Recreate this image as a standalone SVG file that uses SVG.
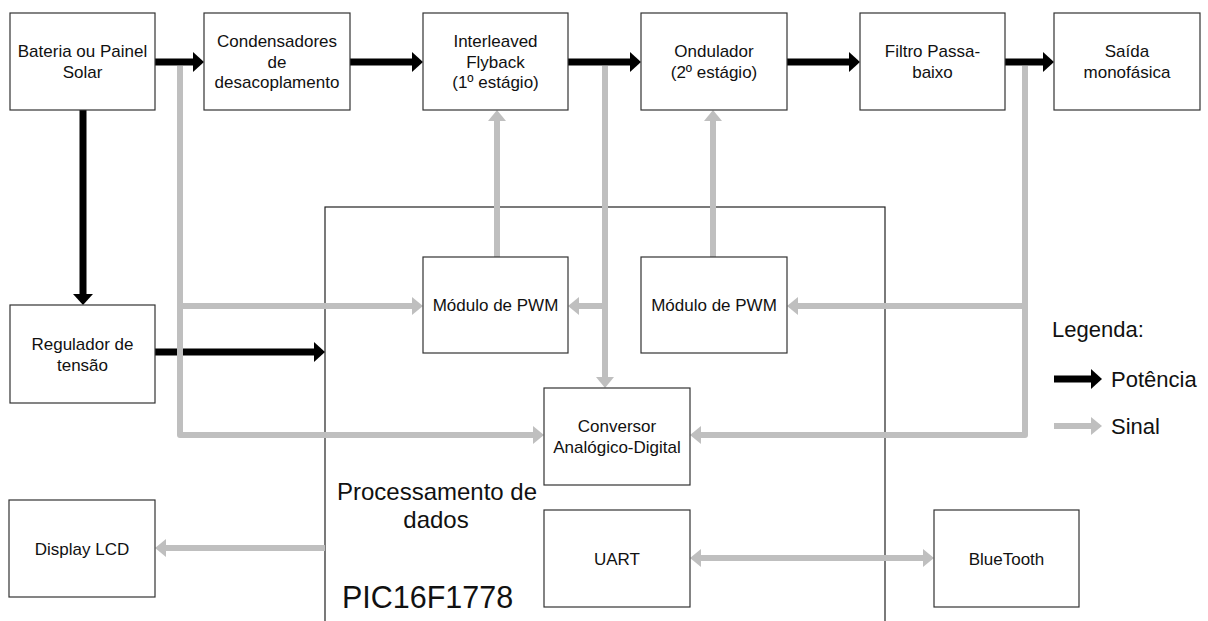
<svg xmlns="http://www.w3.org/2000/svg" width="1208" height="621" viewBox="0 0 1208 621">
<style>
.box{fill:#fff;stroke:#333;stroke-width:1.2}
.t{font-family:"Liberation Sans",Arial,sans-serif;font-size:17px;fill:#111;text-anchor:middle}
.lg{font-family:"Liberation Sans",Arial,sans-serif;font-size:22px;fill:#111}
.pw{fill:none;stroke:#000;stroke-width:7}
.sg{fill:none;stroke:#bfbfbf;stroke-width:6;stroke-linejoin:round}
</style>
<defs>
<marker id="hb" markerUnits="userSpaceOnUse" markerWidth="12" markerHeight="22" viewBox="0 -11 12 22" refX="0" refY="0" orient="auto-start-reverse"><path d="M0,-10 L11,0 L0,10 Z" fill="#000"/></marker>
<marker id="hg" markerUnits="userSpaceOnUse" markerWidth="12" markerHeight="20" viewBox="0 -10 12 20" refX="0" refY="0" orient="auto-start-reverse"><path d="M0,-9 L11,0 L0,9 Z" fill="#bfbfbf"/></marker>
</defs>
<rect width="1208" height="621" fill="#fff"/>
<g id="processamento">
<rect x="325" y="207" width="560" height="430" fill="#fff" stroke="#222" stroke-width="1.2"/>
<text class="t" x="437" y="500" style="font-size:24px">Processamento de</text>
<text class="t" x="436" y="528" style="font-size:24px">dados</text>
<text class="t" x="427.5" y="608" style="font-size:30.5px">PIC16F1778</text>
</g>
<g id="connectors">
<path class="pw" d="M155,62 H193" marker-end="url(#hb)"/>
<path class="pw" d="M350,62 H412" marker-end="url(#hb)"/>
<path class="pw" d="M568,62 H630" marker-end="url(#hb)"/>
<path class="pw" d="M787,62 H849" marker-end="url(#hb)"/>
<path class="pw" d="M1005,62 H1043" marker-end="url(#hb)"/>
<path class="pw" d="M83,110 V294" marker-end="url(#hb)"/>
<path class="pw" d="M155,352 H314" marker-end="url(#hb)"/>
<path class="sg" d="M180,66 V435 H533" marker-end="url(#hg)"/>
<path class="sg" d="M180,306 H412" marker-end="url(#hg)"/>
<path class="sg" d="M497,257 V121" marker-end="url(#hg)"/>
<path class="sg" d="M713,257 V121" marker-end="url(#hg)"/>
<path class="sg" d="M605,66 V377" marker-end="url(#hg)"/>
<path class="sg" d="M605,306 H579" marker-end="url(#hg)"/>
<path class="sg" d="M1025,66 V435 H701" marker-end="url(#hg)"/>
<path class="sg" d="M1025,306 H798" marker-end="url(#hg)"/>
<path class="sg" d="M325,548 H166" marker-end="url(#hg)"/>
<path class="sg" d="M701,558 H923" marker-start="url(#hg)" marker-end="url(#hg)"/>
</g>
<g id="bateria"><rect class="box" x="10" y="13" width="145" height="97"/><text class="t" x="82.5" y="57">Bateria ou Painel</text><text class="t" x="82.5" y="78">Solar</text></g>
<g id="condensadores"><rect class="box" x="204" y="13" width="146" height="97"/><text class="t" x="277" y="47">Condensadores</text><text class="t" x="277" y="67.5">de</text><text class="t" x="277" y="88">desacoplamento</text></g>
<g id="flyback"><rect class="box" x="423" y="13" width="145" height="97"/><text class="t" x="495.5" y="47">Interleaved</text><text class="t" x="495.5" y="67.5">Flyback</text><text class="t" x="495.5" y="88">(1º estágio)</text></g>
<g id="ondulador"><rect class="box" x="641" y="13" width="146" height="97"/><text class="t" x="714" y="57">Ondulador</text><text class="t" x="714" y="78">(2º estágio)</text></g>
<g id="filtro"><rect class="box" x="860" y="13" width="145" height="97"/><text class="t" x="932.5" y="57">Filtro Passa-</text><text class="t" x="932.5" y="78">baixo</text></g>
<g id="saida"><rect class="box" x="1054" y="13" width="146" height="97"/><text class="t" x="1127" y="57">Saída</text><text class="t" x="1127" y="78">monofásica</text></g>
<g id="regulador"><rect class="box" x="10" y="305" width="145" height="98"/><text class="t" x="82.5" y="350">Regulador de</text><text class="t" x="82.5" y="371">tensão</text></g>
<g id="pwm1"><rect class="box" x="423" y="257" width="145" height="96"/><text class="t" x="495.5" y="311">Módulo de PWM</text></g>
<g id="pwm2"><rect class="box" x="641" y="257" width="146" height="96"/><text class="t" x="714" y="311">Módulo de PWM</text></g>
<g id="conversor"><rect class="box" x="544" y="388" width="146" height="97"/><text class="t" x="617" y="432">Conversor</text><text class="t" x="617" y="453">Analógico-Digital</text></g>
<g id="uart"><rect class="box" x="544" y="510" width="146" height="97"/><text class="t" x="617" y="564.5">UART</text></g>
<g id="bluetooth"><rect class="box" x="934" y="510" width="145" height="97"/><text class="t" x="1006.5" y="564.5">BlueTooth</text></g>
<g id="display"><rect class="box" x="9" y="500" width="146" height="97"/><text class="t" x="82" y="554.5">Display LCD</text></g>
<g id="legenda">
<text class="lg" x="1052" y="337">Legenda:</text>
<path class="pw" d="M1054,379 H1091" marker-end="url(#hb)"/>
<text class="lg" x="1111" y="387">Potência</text>
<path class="sg" d="M1054,426 H1091" marker-end="url(#hg)"/>
<text class="lg" x="1111" y="434">Sinal</text>
</g>
</svg>
